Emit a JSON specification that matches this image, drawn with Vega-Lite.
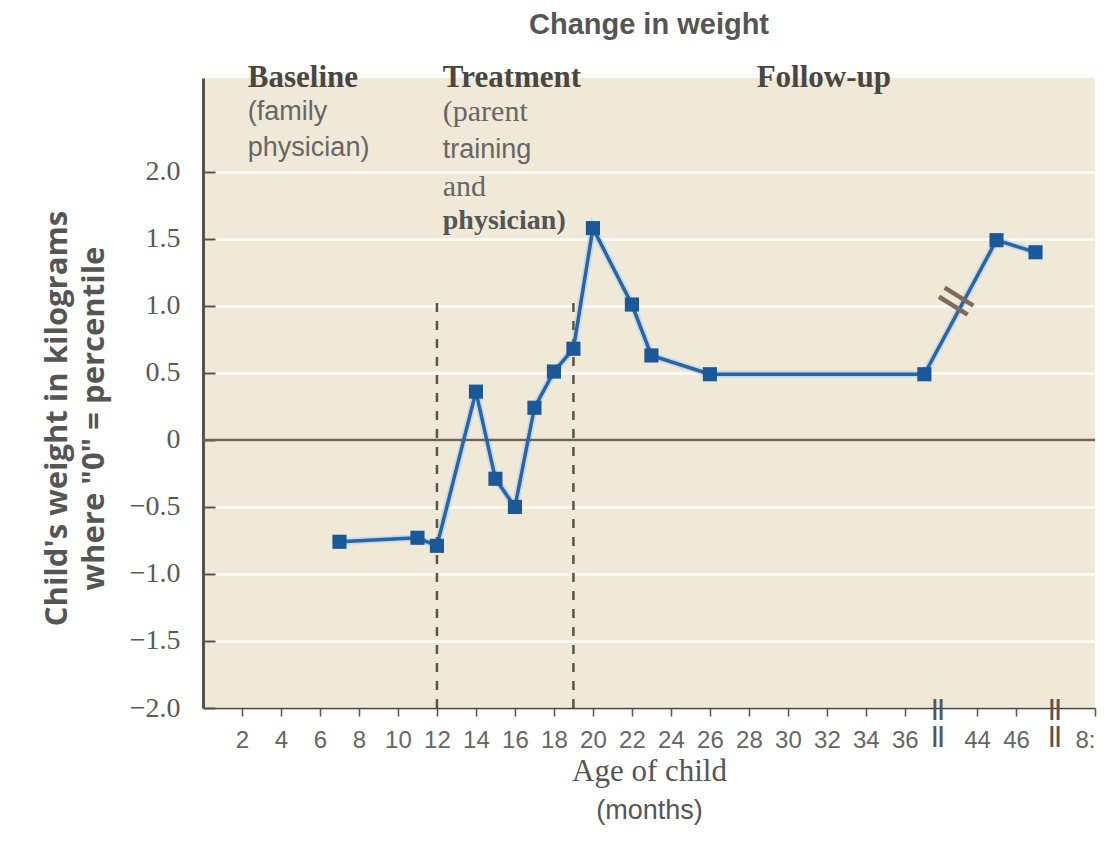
{
  "$schema": "https://vega.github.io/schema/vega-lite/v6.json",
  "width": 892,
  "height": 630,
  "autosize": {"type": "none"},
  "padding": {"left": 203, "top": 78, "right": 21, "bottom": 143},
  "background": "white",
  "title": {"text": "Change in weight", "font": "Liberation Sans", "fontSize": 29, "fontWeight": "bold", "color": "#555555", "anchor": "middle", "offset": 22},
  "config": {"view": {"fill": "#f0e9d8", "stroke": null}},
  "datasets": {
    "series": [
      {"month": 7, "weight": -0.76},
      {"month": 11, "weight": -0.73},
      {"month": 12, "weight": -0.79},
      {"month": 14, "weight": 0.36},
      {"month": 15, "weight": -0.29},
      {"month": 16, "weight": -0.5},
      {"month": 17, "weight": 0.24},
      {"month": 18, "weight": 0.51},
      {"month": 19, "weight": 0.68},
      {"month": 20, "weight": 1.58},
      {"month": 22, "weight": 1.01},
      {"month": 23, "weight": 0.63},
      {"month": 26, "weight": 0.49},
      {"month": 37, "weight": 0.49},
      {"month": 45, "weight": 1.49},
      {"month": 47, "weight": 1.4}
    ]
  },
  "layer": [
    {
      "data": {"name": "series"},
      "mark": {"type": "line", "color": "#c6d9ec", "strokeWidth": 7},
      "encoding": {
        "x": {
          "field": "month", "type": "quantitative",
          "scale": {"domain": [0, 37.7, 42, 48, 78, 80], "range": [0, 735, 735, 852, 852, 892], "nice": false, "zero": false},
          "axis": {
            "values": [2, 4, 6, 8, 10, 12, 14, 16, 18, 20, 22, 24, 26, 28, 30, 32, 34, 36, 44, 46, 80],
            "labelExpr": "datum.value == 80 ? '8:' : datum.label",
            "labelOverlap": false,
            "labelFont": "Liberation Sans", "labelFontSize": 24, "labelColor": "#666666", "labelPadding": 12,
            "tickSize": 8, "tickColor": "#555555", "tickWidth": 1.5,
            "domainColor": "#444444", "domainWidth": 1.5,
            "grid": false,
            "title": "Age of child", "titleFont": "Liberation Serif", "titleFontSize": 31, "titleFontWeight": "normal", "titleColor": "#555555", "titlePadding": 4
          }
        },
        "y": {
          "field": "weight", "type": "quantitative",
          "scale": {"domain": [-2, 2.7], "nice": false, "zero": false},
          "axis": {
            "values": [-2, -1.5, -1, -0.5, 0, 0.5, 1, 1.5, 2],
            "labelExpr": "datum.value == 0 ? '0' : format(datum.value, '.1f')",
            "labelFont": "Liberation Serif", "labelFontSize": 28, "labelColor": "#5a5a5a", "labelPadding": 35,
            "tickSize": -12, "tickColor": "#5a5248", "tickWidth": 2,
            "domainColor": "#5a5248", "domainWidth": 3,
            "grid": true, "gridColor": "#fbf9f3", "gridWidth": 3,
            "title": ["Child's weight in kilograms", "where \"0\" = percentile"],
            "titleFont": "Open Sans", "titleFontWeight": "bold", "titleFontSize": 31, "titleColor": "#555555",
            "titleLineHeight": 37, "titleAngle": -90, "titleX": -146, "titleY": 340, "titleAlign": "center", "titleBaseline": "middle"
          }
        }
      }
    },
    {
      "data": {"values": [{"weight": 0}]},
      "mark": {"type": "rule", "color": "#6f6553", "strokeWidth": 2.5},
      "encoding": {"y": {"field": "weight", "type": "quantitative"}}
    },
    {
      "data": {"values": [{"month": 12}, {"month": 19}]},
      "mark": {"type": "rule", "color": "#5b5345", "strokeWidth": 2.5, "strokeDash": [9, 9]},
      "encoding": {
        "x": {"field": "month", "type": "quantitative"},
        "y": {"datum": -2, "type": "quantitative"},
        "y2": {"datum": 1.05}
      }
    },
    {
      "data": {"name": "series"},
      "mark": {"type": "line", "color": "#2a65a0", "strokeWidth": 3.5},
      "encoding": {
        "x": {"field": "month", "type": "quantitative"},
        "y": {"field": "weight", "type": "quantitative"}
      }
    },
    {
      "data": {"name": "series"},
      "mark": {"type": "point", "shape": "square", "filled": true, "color": "#1b5897", "size": 200, "opacity": 1},
      "encoding": {
        "x": {"field": "month", "type": "quantitative"},
        "y": {"field": "weight", "type": "quantitative"}
      }
    },
    {
      "data": {"values": [{"label": "=", "month": 42.9, "weight": 1.03}]},
      "mark": {"type": "text", "font": "DejaVu Sans", "fontSize": 54, "angle": 32, "color": "#7b6b58", "align": "center", "baseline": "middle"},
      "encoding": {"x": {"field": "month", "type": "quantitative"}, "y": {"field": "weight", "type": "quantitative"}, "text": {"field": "label"}}
    },
    {
      "data": {"values": [{"month": 40, "weight": -2}, {"month": 40, "weight": -2.2}, {"month": 60, "weight": -2}, {"month": 60, "weight": -2.2}]},
      "mark": {"type": "text", "text": "||", "font": "Liberation Sans", "fontSize": 22, "fontWeight": "bold", "color": "#555555", "align": "center", "baseline": "middle"},
      "encoding": {"x": {"field": "month", "type": "quantitative"}, "y": {"field": "weight", "type": "quantitative"}}
    },
    {
      "data": {"values": [
        {"label": "Baseline", "month": 2.3, "weight": 2.7},
        {"label": "Treatment", "month": 12.3, "weight": 2.7},
        {"label": "Follow-up", "month": 28.4, "weight": 2.7}
      ]},
      "mark": {"type": "text", "font": "Liberation Serif", "fontWeight": "bold", "fontSize": 31, "color": "#4a4642", "align": "left", "baseline": "middle"},
      "encoding": {"x": {"field": "month", "type": "quantitative"}, "y": {"field": "weight", "type": "quantitative"}, "text": {"field": "label"}}
    },
    {
      "data": {"values": [
        {"label": "(family", "month": 2.3, "weight": 2.45},
        {"label": "physician)", "month": 2.3, "weight": 2.18},
        {"label": "training", "month": 12.3, "weight": 2.16}
      ]},
      "mark": {"type": "text", "font": "Liberation Sans", "fontSize": 27, "color": "#666666", "align": "left", "baseline": "middle"},
      "encoding": {"x": {"field": "month", "type": "quantitative"}, "y": {"field": "weight", "type": "quantitative"}, "text": {"field": "label"}}
    },
    {
      "data": {"values": [
        {"label": "(parent", "month": 12.3, "weight": 2.45},
        {"label": "and", "month": 12.3, "weight": 1.89}
      ]},
      "mark": {"type": "text", "font": "Liberation Serif", "fontSize": 30, "color": "#666666", "align": "left", "baseline": "middle"},
      "encoding": {"x": {"field": "month", "type": "quantitative"}, "y": {"field": "weight", "type": "quantitative"}, "text": {"field": "label"}}
    },
    {
      "data": {"values": [{"label": "physician)", "month": 12.3, "weight": 1.63}]},
      "mark": {"type": "text", "font": "Liberation Serif", "fontWeight": "bold", "fontSize": 28, "color": "#555555", "align": "left", "baseline": "middle"},
      "encoding": {"x": {"field": "month", "type": "quantitative"}, "y": {"field": "weight", "type": "quantitative"}, "text": {"field": "label"}}
    },
    {
      "data": {"values": [{"label": "(months)", "month": 22.9, "weight": -2.77}]},
      "mark": {"type": "text", "font": "Liberation Sans", "fontSize": 27, "color": "#555555", "align": "center", "baseline": "middle"},
      "encoding": {"x": {"field": "month", "type": "quantitative"}, "y": {"field": "weight", "type": "quantitative"}, "text": {"field": "label"}}
    }
  ]
}
